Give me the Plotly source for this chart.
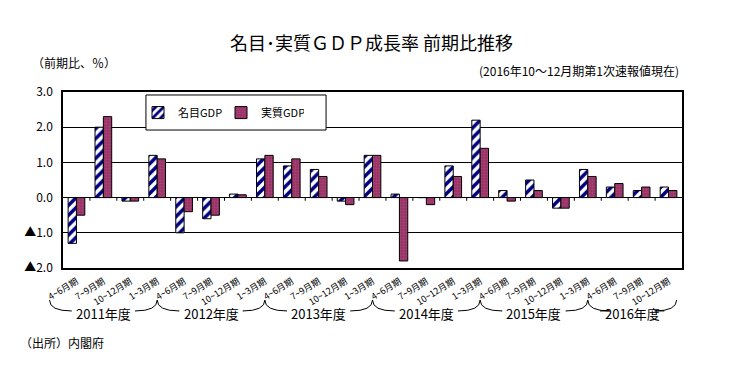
import plotly.graph_objects as go

# ---- data ----
quarters = ["4~6月期", "7~9月期", "10~12月期", "1~3月期"] * 5 + ["4~6月期", "7~9月期", "10~12月期"]
years = ["2011年度", "2012年度", "2013年度", "2014年度", "2015年度", "2016年度"]
quarters_per_year = [4, 4, 4, 4, 4, 3]
nominal = [-1.3, 2.0, -0.1, 1.2,
           -1.0, -0.6, 0.1, 1.1,
           0.9, 0.8, -0.1, 1.2,
           0.1, 0.0, 0.9, 2.2,
           0.2, 0.5, -0.3, 0.8,
           0.3, 0.2, 0.3]
real = [-0.5, 2.3, -0.1, 1.1,
        -0.4, -0.5, 0.08, 1.2,
        1.1, 0.6, -0.2, 1.2,
        -1.8, -0.2, 0.6, 1.4,
        -0.1, 0.2, -0.3, 0.6,
        0.4, 0.3, 0.2]
ytick_vals = [3, 2, 1, 0, -1, -2]
ytick_text = ["3.0", "2.0", "1.0", "0.0", "▲1.0", "▲2.0"]

FONT = "Noto Sans CJK JP"
n = len(quarters)
xs = list(range(n))

fig = go.Figure()
fig.add_trace(go.Bar(
    x=xs, y=nominal, name="名目GDP",
    marker=dict(color="white", line=dict(color="black", width=1),
                pattern=dict(shape="/", fgcolor="#000080", bgcolor="white",
                             fgopacity=1, size=7, solidity=0.5)),
))
fig.add_trace(go.Bar(
    x=xs, y=real, name="実質GDP",
    marker=dict(color="#993366", line=dict(color="black", width=1),
                pattern=dict(shape=".", fgcolor="#B8578A", bgcolor="#993366",
                             size=3, solidity=0.3)),
))

shapes = []
# small tick marks on the zero line at category boundaries
for i in range(n - 1):
    shapes.append(dict(type="line", xref="x", yref="y", x0=i + 0.5, x1=i + 0.5,
                       y0=0, y1=-0.09, line=dict(color="black", width=1)))

# legend box
shapes.append(dict(type="rect", xref="paper", yref="paper", x0=0.134, x1=0.425,
                   y0=0.784, y1=0.983, line=dict(color="black", width=1),
                   fillcolor="white", layer="above"))

# year brackets
annotations = []
yT, yM = -0.182, -0.244
dx = 22 / 619
gap = 0.052
start = 0
for k, (yr, nq) in enumerate(zip(years, quarters_per_year)):
    xL = (start - 0.5) / n
    xR = (start + nq - 0.5) / n
    if nq < 4:
        xR = (start + nq - 0.2) / n
    cx = (xL + xR) / 2
    path = (f"M {xL},{yT} Q {xL},{yM} {xL+dx},{yM} L {cx-gap},{yM} "
            f"M {cx+gap},{yM} L {xR-dx},{yM} Q {xR},{yM} {xR},{yT}")
    shapes.append(dict(type="path", xref="paper", yref="paper", path=path,
                       line=dict(color="black", width=1)))
    annotations.append(dict(text=yr, xref="paper", yref="paper", x=cx, y=-0.256,
                            showarrow=False, font=dict(family=FONT, size=13, color="black"),
                            xanchor="center", yanchor="middle"))
    start += nq

annotations += [
    dict(text="名目･実質ＧＤＰ成長率 前期比推移", xref="paper", yref="paper",
         x=(371 - 63) / 619, y=(268 - 42) / 176, showarrow=False,
         font=dict(family=FONT, size=18, color="black"), xanchor="center", yanchor="middle"),
    dict(text="（前期比、％）", xref="paper", yref="paper", x=(30 - 63) / 619, y=(268 - 62) / 176,
         showarrow=False, font=dict(family=FONT, size=12, color="black"),
         xanchor="left", yanchor="middle"),
    dict(text="(2016年10～12月期第1次速報値現在)", xref="paper", yref="paper",
         x=(681 - 63) / 619, y=(268 - 70) / 176, showarrow=False,
         font=dict(family=FONT, size=12, color="black"), xanchor="right", yanchor="middle"),
    dict(text="（出所）内閣府", xref="paper", yref="paper", x=(18 - 63) / 619,
         y=(268 - 342) / 176, showarrow=False,
         font=dict(family=FONT, size=12, color="black"), xanchor="left", yanchor="middle"),
]

# the page body has an 8px margin, so the figure is drawn 8px right/down
fig.update_layout(
    width=728, height=360,
    margin=dict(l=55, r=54, t=84, b=100, autoexpand=False),
    paper_bgcolor="white", plot_bgcolor="white",
    barmode="group", bargap=0.38, bargroupgap=0,
    font=dict(family=FONT, color="black"),
    showlegend=True,
    legend=dict(orientation="h", x=(138 - 63) / 619, y=0.883, xanchor="left", yanchor="middle",
                bgcolor="rgba(0,0,0,0)", borderwidth=0,
                font=dict(family=FONT, size=11, color="black"),
                entrywidth=38, itemwidth=30),
    shapes=shapes,
    annotations=annotations,
    xaxis=dict(range=[-0.5, n - 0.5], tickvals=xs, ticktext=quarters, tickangle=-32,
               tickfont=dict(family=FONT, size=9, color="black"),
               showgrid=False, zeroline=False, showline=True, mirror=True,
               linecolor="black", linewidth=1.5, ticks="outside", ticklen=3,
               tickcolor="rgba(0,0,0,0)", automargin=False),
    yaxis=dict(range=[-2, 3], tickvals=ytick_vals, ticktext=ytick_text,
               tickfont=dict(family=FONT, size=12, color="black"),
               showgrid=True, gridcolor="black", gridwidth=1,
               zeroline=True, zerolinecolor="black", zerolinewidth=1,
               showline=True, mirror=True, linecolor="black", linewidth=1.5,
               ticks="", ticklabelstandoff=6, automargin=False),
)

fig.write_html("out.html")
